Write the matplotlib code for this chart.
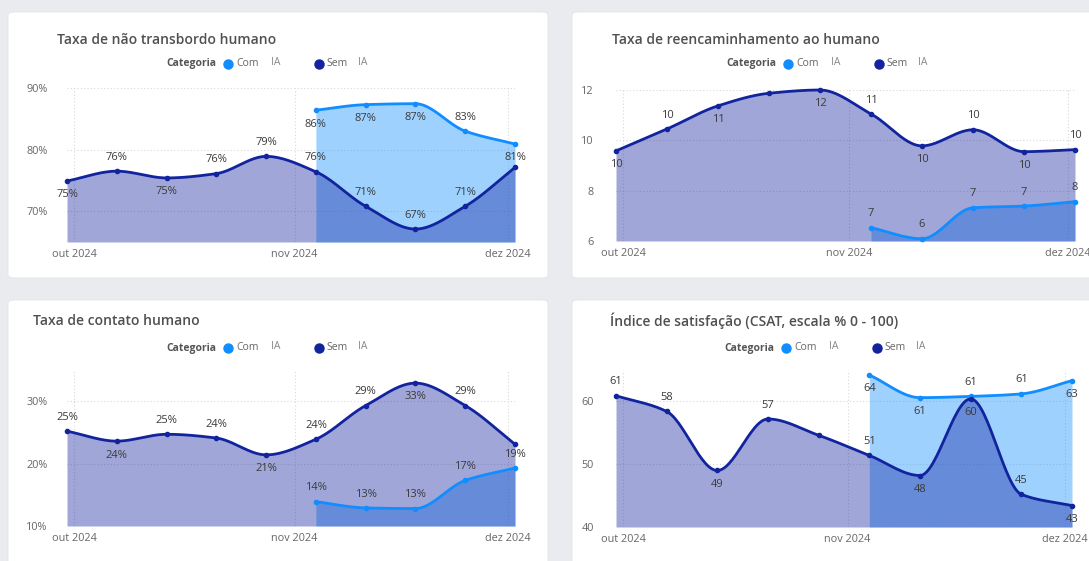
import numpy as np
import matplotlib
matplotlib.use('Agg')
import matplotlib.pyplot as plt
import matplotlib.dates as mdates
from matplotlib.patches import FancyBboxPatch
from matplotlib.ticker import FuncFormatter

plt.rcParams['font.family'] = ['Open Sans', 'DejaVu Sans']

# dados semanais (inicio da semana)
semanas = ['2024-09-30', '2024-10-07', '2024-10-14', '2024-10-21', '2024-10-28',
           '2024-11-04', '2024-11-11', '2024-11-18', '2024-11-25', '2024-12-02']
semanas_com = semanas[5:]
meses = ['2024-10-01', '2024-11-01', '2024-12-01']
meses_labels = ['out 2024', 'nov 2024', 'dez 2024']

nao_transbordo_sem = [74.9, 76.5, 75.4, 76.1, 78.9, 76.4, 70.8, 67.1, 70.8, 77.1]
nao_transbordo_com = [86.4, 87.3, 87.45, 83.0, 80.9]
reencaminhamento_sem = [9.58, 10.45, 11.37, 11.87, 12.0, 11.05, 9.78, 10.42, 9.55, 9.63]
reencaminhamento_com = [6.53, 6.09, 7.32, 7.39, 7.56]
contato_sem = [25.2, 23.6, 24.7, 24.1, 21.4, 23.9, 29.3, 32.9, 29.3, 23.1]
contato_com = [13.9, 12.9, 12.8, 17.3, 19.3]
csat_sem = [60.9, 58.4, 49.0, 57.2, 54.6, 51.4, 48.2, 60.4, 45.2, 43.4]
csat_com = [64.2, 60.6, 60.8, 61.2, 63.3]

COR_COM = '#118DFF'
COR_SEM = '#12239E'
FUNDO = '#e9ebee'
W, H = 1089, 561


def pchip(x, y, n=30):
    x = np.asarray(x, float)
    y = np.asarray(y, float)
    h = np.diff(x)
    d = np.diff(y) / h
    m = np.zeros_like(y)
    m[0], m[-1] = d[0], d[-1]
    for k in range(1, len(x) - 1):
        if d[k - 1] * d[k] > 0:
            w1 = 2 * h[k] + h[k - 1]
            w2 = h[k] + 2 * h[k - 1]
            m[k] = (w1 + w2) / (w1 / d[k - 1] + w2 / d[k])
    xs, ys = [], []
    for k in range(len(x) - 1):
        t = np.linspace(0, 1, n, endpoint=(k == len(x) - 2))
        h00 = 2 * t**3 - 3 * t**2 + 1
        h10 = t**3 - 2 * t**2 + t
        h01 = -2 * t**3 + 3 * t**2
        h11 = t**3 - t**2
        xs.append(x[k] + t * h[k])
        ys.append(h00 * y[k] + h10 * h[k] * m[k] + h01 * y[k + 1] + h11 * h[k] * m[k + 1])
    return np.concatenate(xs), np.concatenate(ys)


def px_axes(x0, y0, x1, y1):
    return fig.add_axes([x0 / W, 1 - y1 / H, (x1 - x0) / W, (y1 - y0) / H], zorder=2)


def card(x0, y0, x1, y1):
    fig.patches.append(FancyBboxPatch((x0 / W, 1 - y1 / H), (x1 - x0) / W, (y1 - y0) / H,
                                      boxstyle='round,pad=0,rounding_size=0.006',
                                      transform=fig.transFigure, facecolor='white',
                                      edgecolor='#e2e4e8', linewidth=0.6, zorder=-1))


def legenda(x, y):
    yf = 1 - y / H
    fig.text(x / W, yf, 'Categoria', fontsize=7.5, fontweight='bold', color='#555555',
             ha='right', va='center')
    fig.lines.append(plt.Line2D([(x + 12) / W], [yf], marker='o', markersize=6.5,
                                color=COR_COM, transform=fig.transFigure))
    fig.text((x + 20) / W, yf, 'Com', fontsize=7.5, color='#666666', va='center')
    fig.text((x + 55) / W, yf + 0.003, 'IA', fontsize=7.5, color='#888888', va='center')
    fig.lines.append(plt.Line2D([(x + 103) / W], [yf], marker='o', markersize=6.5,
                                color=COR_SEM, transform=fig.transFigure))
    fig.text((x + 110) / W, yf, 'Sem', fontsize=7.5, color='#666666', va='center')
    fig.text((x + 142) / W, yf + 0.003, 'IA', fontsize=7.5, color='#888888', va='center')


def painel(ax, titulo, tpos, lpos, sem, com, ylim, yticks, fmt,
           off_sem, off_com, ypad):
    xs_all = mdates.datestr2num(semanas)
    xs_com = mdates.datestr2num(semanas_com)
    ymin = ylim[0]
    for xv, yv, cor, z in [(xs_com, com, COR_COM, 1), (xs_all, sem, COR_SEM, 2)]:
        sx, sy = pchip(xv, yv)
        ax.fill_between(sx, sy, ymin, color=cor, alpha=0.4, linewidth=0, zorder=z)
    for xv, yv, cor in [(xs_com, com, COR_COM), (xs_all, sem, COR_SEM)]:
        sx, sy = pchip(xv, yv)
        ax.plot(sx, sy, color=cor, linewidth=2.0, zorder=4, clip_on=False,
                solid_capstyle='round')
        ax.plot(xv, yv, 'o', color=cor, markersize=3, zorder=5, clip_on=False)
    for xv, yv, offs in [(xs_all, sem, off_sem), (xs_com, com, off_com)]:
        for xi, yi, o in zip(xv, yv, offs):
            if o is None:
                continue
            ax.annotate(fmt(round(yi)), (xi, yi), xytext=(o[0], o[1]), textcoords='offset points',
                        ha='center', va='center', fontsize=8, color='#3a3a3a', zorder=6)
    ax.set_xlim(xs_all[0], xs_all[-1])
    ax.set_ylim(*ylim)
    ax.set_yticks(yticks)
    ax.yaxis.set_major_formatter(FuncFormatter(lambda v, p: fmt(int(round(v)))))
    ax.set_xticks(mdates.datestr2num(meses))
    ax.set_xticklabels(meses_labels)
    ax.tick_params(axis='both', length=0, labelsize=7.8, labelcolor='#666666')
    ax.tick_params(axis='y', pad=ypad)
    ax.tick_params(axis='x', pad=5)
    ax.grid(True, color='#d8d8d8', linestyle=(0, (1, 2)), linewidth=0.8, zorder=0)
    ax.set_axisbelow(True)
    for s in ax.spines.values():
        s.set_visible(False)
    ax.patch.set_alpha(0)
    fig.text(tpos[0] / W, 1 - tpos[1] / H, titulo, fontsize=10, color='#505050',
             fontweight='semibold', va='center', ha='left')
    legenda(*lpos)


fig = plt.figure(figsize=(W / 100, H / 100), dpi=100, facecolor=FUNDO)
card(8, 12, 548, 278)
card(572, 12, 1100, 278)
card(8, 300, 548, 575)
card(572, 300, 1100, 575)

pct = lambda v: f'{v}%'
num = lambda v: f'{v}'
A, B = (0, 10), (0, -10)

ax1 = px_axes(67, 88, 515, 242)
painel(ax1, 'Taxa de não transbordo humano', (57, 40), (216, 64),
       nao_transbordo_sem, nao_transbordo_com, (65, 90), [70, 80, 90], pct,
       [B, A, B, A, A, A, A, A, A, None], [B, B, B, A, B], 14)

ax2 = px_axes(616, 90, 1075, 241)
painel(ax2, 'Taxa de reencaminhamento ao humano', (612, 40), (776, 64),
       reencaminhamento_sem, reencaminhamento_com, (6, 12), [6, 8, 10, 12], num,
       [B, A, B, None, B, A, B, A, B, A], [A, A, A, A, A], 16)

ax3 = px_axes(67, 370, 515, 526)
painel(ax3, 'Taxa de contato humano', (33, 321), (216, 348),
       contato_sem, contato_com, (10, 35), [10, 20, 30], pct,
       [A, B, A, A, B, A, A, B, A, None], [A, A, A, A, A], 14)

ax4 = px_axes(616, 370, 1072, 527)
painel(ax4, 'Índice de satisfação (CSAT, escala % 0 - 100)', (610, 321), (774, 348),
       csat_sem, csat_com, (40, 65), [40, 50, 60], num,
       [A, A, B, A, None, A, B, B, A, B], [B, B, A, A, B], 16)

fig.savefig('out.png', dpi=100, facecolor=FUNDO)
